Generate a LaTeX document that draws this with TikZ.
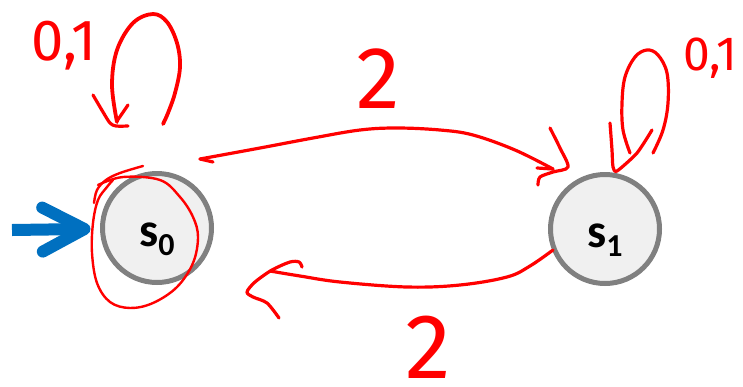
\documentclass[tikz,border=0pt]{standalone}
\usepackage{fontspec}
\setmainfont{Carlito}
\newfontfamily\handfont{Fira Sans}
\usetikzlibrary{arrows.meta}
\definecolor{stategray}{HTML}{808080}
\definecolor{statefill}{HTML}{F0F0F0}
\definecolor{inkred}{HTML}{FF0000}
\definecolor{startblue}{HTML}{0070C0}

\begin{document}
\begin{tikzpicture}[
  x=1pt,
  y=-1pt,
  line join=round,
  line cap=round,
  state/.style={circle,draw=stategray,fill=statefill,line width=5pt,
    minimum size=109pt,inner sep=0pt,outer sep=0pt,
    font=\bfseries\fontsize{48}{50}\selectfont,text height=38pt,text depth=2pt},
  ink/.style={draw=inkred,line width=3.2pt},
  inktext/.style={text=inkred,inner sep=0pt,anchor=base},
  startarrow/.style={draw=startblue,line width=12pt,line cap=butt,
    -{Straight Barb[length=42pt,width=44pt,round]}}
]
  \useasboundingbox (0,0) rectangle (743,386);

  % The two states of the machine.
  \node[state] (s0) at (157,228) {s\raisebox{-9pt}{\fontsize{32}{32}\selectfont 0}};
  \node[state] (s1) at (605,229) {s\raisebox{-9pt}{\fontsize{32}{32}\selectfont 1}};

  % Start marker.
  \coordinate (init) at (12,230);
  \draw[startarrow,shorten >=12pt] (init) -- (s0);

  % Hand-drawn transitions between the states.
  \coordinate (t01a) at (200,159);
  \coordinate (t01b) at (553,169);
  \draw[ink] plot[smooth,tension=0.6] coordinates {(t01a) (260,148) (313,138) (360,130)
    (397,128) (440,130) (473,135) (515,150) (t01b)};
  \draw[ink] (t01a) -- (213,162);
  \draw[ink] plot[smooth,tension=0.5] coordinates {(550,128) (560,148) (568,167)
    (553,172) (540,177) (538,185)};
  \draw[ink] (537,168) -- (t01b);

  \coordinate (t10a) at (553,250);
  \coordinate (t10b) at (270,271);
  \draw[ink] plot[smooth,tension=0.6] coordinates {(t10a) (530,266) (507,277) (460,285)
    (407,287) (340,282) (300,276) (t10b)};
  \draw[ink] plot[smooth,tension=0.5] coordinates {(302,267) (299,262) (290,262)
    (272,270) (255,282) (247,292) (253,297) (267,303) (279,318)};

  % Self-loop on s0.
  \draw[ink,line width=3.8pt] plot[smooth,tension=0.6] coordinates {(117,122) (112,85)
    (117,50) (133,23) (153,14) (167,22) (177,43) (180,67) (175,93) (168,113) (163,124)};
  \draw[ink] plot[smooth,tension=0.5] coordinates {(93,95) (103,112) (110,123)
    (116,126) (128,126)};
  \draw[ink] (128,105) -- (117,121);

  % Self-loop on s1.
  \draw[ink] plot[smooth,tension=0.6] coordinates {(630,153) (623,130) (622,103) (625,77)
    (635,57) (647,50) (658,55) (667,73) (668,103) (663,130) (653,153)};
  \draw[ink] plot[smooth,tension=0.4] coordinates {(610,123) (612,150) (613,167)
    (617,171) (637,153) (652,130)};

  % Scribbled ring round the start state.
  \draw[ink,line width=2.4pt] plot[smooth,tension=0.6] coordinates {(94,203) (97,190)
    (106,180) (120,173) (143,166)};
  \draw[ink,line width=2.4pt] plot[smooth,tension=0.6] coordinates {(98,185) (123,177)
    (160,180) (180,197) (193,217) (198,237) (193,263) (177,287) (153,303) (130,308)
    (110,302) (97,283) (92,253) (93,223) (98,200) (107,187) (113,180)};

  % Transition labels.
  \node[inktext,font=\handfont\fontsize{58}{60}\selectfont] (lbl0) at (64,60) {0,1};
  \node[inktext,font=\handfont\fontsize{88}{90}\selectfont] (lbl01) at (378,108) {2};
  \node[inktext,font=\handfont\fontsize{48}{50}\selectfont,anchor=base west] (lbl1) at (683,70) {0,1};
  \node[inktext,font=\handfont\fontsize{92}{92}\selectfont] (lbl10) at (428,378) {2};
\end{tikzpicture}
\end{document}
